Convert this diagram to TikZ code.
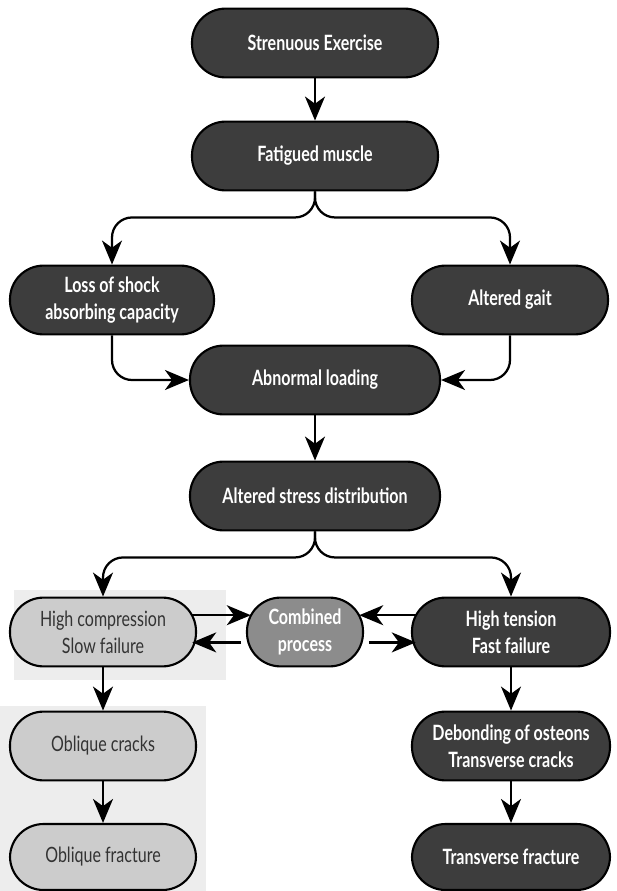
\documentclass[tikz,border=0pt]{standalone}
\usepackage{fontspec}
\setmainfont{Lato}[FakeStretch=0.76]
\usetikzlibrary{arrows.meta}

\begin{document}
\begin{tikzpicture}[
  pill/.style={draw=black, line width=1.5pt, rounded corners=0.84cm, minimum height=1.72cm,
    align=center, inner sep=2pt, font=\fontsize{15}{19}\selectfont},
  darkbox/.style={pill, fill=black!76, text=white, font=\fontsize{15}{19}\selectfont\bfseries},
  midbox/.style={pill, fill=black!45, text=white, font=\fontsize{15}{19}\selectfont\bfseries},
  lightbox/.style={pill, fill=black!20, text=black!80},
  >={Stealth[length=6mm,width=5mm,inset=1.8mm]},
  arr/.style={->, line width=1.6pt},
  elbow/.style={arr, rounded corners=0.5cm}
]
  \useasboundingbox (0,0) rectangle (15.425,-22.275);
  \fill[black!7] (0.35,-14.75) rectangle (5.65,-17.0);
  \fill[black!7] (0,-17.65) rectangle (5.15,-22.275);

  \node[darkbox, minimum width=6.15cm] (exercise) at (7.875,-1.075) {Strenuous Exercise};
  \node[darkbox, minimum width=6.15cm] (fatigue) at (7.875,-3.9) {Fatigued muscle};
  \node[darkbox, minimum width=5.1cm] (shock) at (2.8,-7.5) {Loss of shock\\absorbing capacity};
  \node[darkbox, minimum width=4.9cm] (gait) at (12.75,-7.5) {Altered gait};
  \node[darkbox, minimum width=6.25cm] (loading) at (7.875,-9.5) {Abnormal loading};
  \node[darkbox, minimum width=6.25cm] (stress) at (7.875,-12.4) {Altered stress distribution};
  \node[lightbox, minimum width=4.65cm] (compress) at (2.575,-15.8) {High compression\\Slow failure};
  \node[midbox, minimum width=2.9cm] (combined) at (7.625,-15.8) {Combined\\process};
  \node[darkbox, minimum width=4.95cm] (tension) at (12.775,-15.8) {High tension\\Fast failure};
  \node[lightbox, minimum width=4.65cm] (oblcrack) at (2.575,-18.65) {Oblique cracks};
  \node[darkbox, minimum width=4.95cm] (debond) at (12.775,-18.65) {Debonding of osteons\\Transverse cracks};
  \node[lightbox, minimum width=4.65cm, minimum height=1.65cm] (oblfrac) at (2.575,-21.425) {Oblique fracture};
  \node[darkbox, minimum width=4.95cm, minimum height=1.65cm] (transfrac) at (12.775,-21.425) {Transverse fracture};

  \draw[arr] (exercise) -- (fatigue);
  \draw[elbow] (fatigue.south) -- ++(0,-0.65) -| (shock.north);
  \draw[elbow] (fatigue.south) -- ++(0,-0.65) -| (gait.north);
  \draw[elbow] (shock.south) |- (loading.west);
  \draw[elbow] (gait.south) |- (loading.east);
  \draw[arr] (loading) -- (stress);
  \draw[elbow] (stress.south) -- ++(0,-0.65) -| (compress.north);
  \draw[elbow] (stress.south) -- ++(0,-0.65) -| (tension.north);
  \draw[arr] ([xshift=-1.2mm,yshift=4.2mm]compress.east) -- ([xshift=1.2mm,yshift=4.2mm]combined.west);
  \draw[arr] ([xshift=-1.2mm,yshift=-2.6mm]combined.west) -- ([xshift=-1.2mm,yshift=-2.6mm]compress.east);
  \draw[arr] ([xshift=1.2mm,yshift=4.2mm]tension.west) -- ([xshift=-1.2mm,yshift=4.2mm]combined.east);
  \draw[arr] ([xshift=1.2mm,yshift=-2.6mm]combined.east) -- ([xshift=1.2mm,yshift=-2.6mm]tension.west);
  \draw[arr] (compress) -- (oblcrack);
  \draw[arr] (oblcrack) -- (oblfrac);
  \draw[arr] (tension) -- (debond);
  \draw[arr] (debond) -- (transfrac);
\end{tikzpicture}
\end{document}
